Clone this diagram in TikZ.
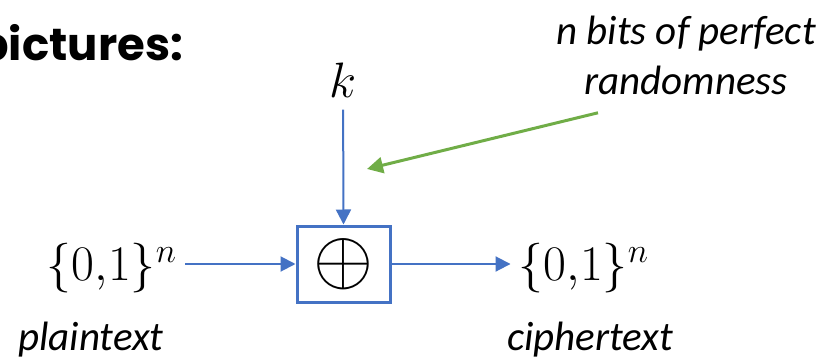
\documentclass[tikz,border=0pt]{standalone}
\usepackage{fontspec}
\usepackage{graphicx}
\setmainfont{Carlito}
\newfontfamily\headfont{Poppins}
\usetikzlibrary{arrows.meta,positioning}
\definecolor{keyblue}{HTML}{4472C4}
\definecolor{randgreen}{HTML}{70AD47}

\begin{document}
\begin{tikzpicture}[x=0.5pt,y=-0.5pt,
 lbl/.style={font=\fontsize{20.5}{25}\selectfont\itshape,inner sep=0pt,align=center},
 val/.style={font=\fontsize{23}{27}\selectfont,inner sep=4pt},
 xorbox/.style={draw=keyblue,line width=1.5pt,minimum width=46.5pt,minimum height=38pt,inner sep=0pt,font=\fontsize{24}{28}\selectfont},
 flow/.style={-{Triangle[length=7.5pt,width=7.5pt]},keyblue,line width=1pt},
 hint/.style={-{Triangle[length=8pt,width=8pt]},randgreen,line width=1.5pt}]
\useasboundingbox (0,0) rectangle (830,364);
\node[anchor=base west,inner sep=0pt,font=\headfont\bfseries\fontsize{22.5}{26}\selectfont] (head) at (-22,60) {pictures:};
\node[xorbox] (xor) at (343.5,264) {\scalebox{1.55}{$\oplus$}};
\node[val,inner sep=6pt] (key) at (343,80) {$k$};
\node[val] (pin) at (112,268) {$\{0{,}1\}^n$};
\node[val] (pout) at (584,268) {$\{0{,}1\}^n$};
\node[lbl] (ptxt) at (91,340) {plaintext};
\node[lbl] (ctxt) at (590,340) {ciphertext};
\node[lbl] (note) at (686,55) {n bits of perfect\\randomness};
\coordinate (hinttip) at (367,169);
\draw[flow] (key) -- (xor.north);
\draw[flow] (pin.east |- xor) -- (xor.west);
\draw[flow] (xor.east) -- (pout.west |- xor);
\draw[hint] ([shift={(-88,18)}]note.south) -- (hinttip);
\end{tikzpicture}
\end{document}
